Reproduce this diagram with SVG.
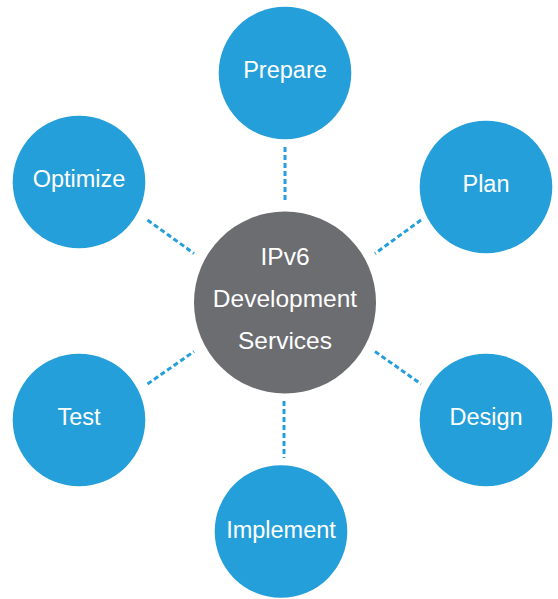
<svg xmlns="http://www.w3.org/2000/svg" width="558" height="599" viewBox="0 0 558 599">
<style>
.n{fill:#249fd9}
.c{fill:#6c6d71}
.t{fill:#ffffff;font-family:"Liberation Sans",Arial,Helvetica,sans-serif;font-size:23.5px;text-anchor:middle}
.ct{font-size:24.5px}
.e{stroke:#249fd9;stroke-width:3;stroke-dasharray:5 3;fill:none}
</style>
<rect width="558" height="599" fill="#ffffff"/>
<g id="connectors">
<line class="e" x1="285" y1="147" x2="285" y2="203"/>
<line class="e" x1="284" y1="401" x2="284" y2="458"/>
<line class="e" x1="147.5" y1="220" x2="194" y2="253.5"/>
<line class="e" x1="421" y1="220" x2="375" y2="253.5"/>
<line class="e" x1="147.5" y1="384" x2="194" y2="351.5"/>
<line class="e" x1="375" y1="351.5" x2="421" y2="384"/>
</g>
<g id="center">
<circle class="c" cx="285" cy="302.5" r="91"/>
<text class="t ct" x="285" y="265">IPv6</text>
<text class="t ct" x="285" y="307">Development</text>
<text class="t ct" x="285" y="349">Services</text>
</g>
<g id="prepare">
<circle class="n" cx="285" cy="73" r="66.3"/>
<text class="t" x="285" y="78">Prepare</text>
</g>
<g id="optimize">
<circle class="n" cx="79" cy="182" r="66.3"/>
<text class="t" x="79" y="187">Optimize</text>
</g>
<g id="plan">
<circle class="n" cx="486" cy="187" r="66.3"/>
<text class="t" x="486" y="192">Plan</text>
</g>
<g id="test">
<circle class="n" cx="79" cy="420" r="66.3"/>
<text class="t" x="79" y="424.5">Test</text>
</g>
<g id="design">
<circle class="n" cx="486" cy="420" r="66.3"/>
<text class="t" x="486" y="424.5">Design</text>
</g>
<g id="implement">
<circle class="n" cx="281" cy="531.5" r="66.3"/>
<text class="t" x="281" y="537.5">Implement</text>
</g>
</svg>
